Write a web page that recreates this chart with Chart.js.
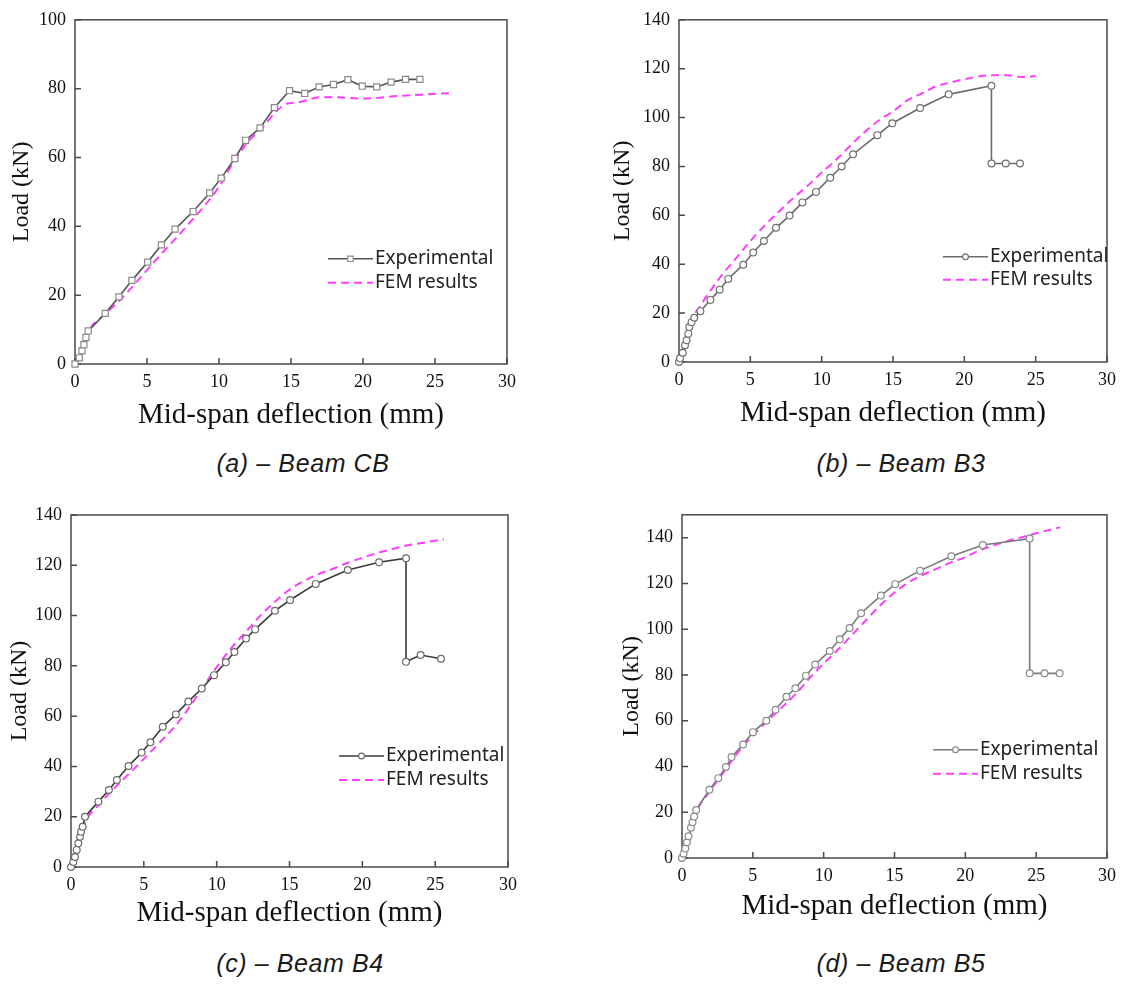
<!DOCTYPE html>
<html>
<head>
<meta charset="utf-8">
<script src="https://cdn.jsdelivr.net/npm/chart.js@4.4.1/dist/chart.umd.min.js"></script>
<style>
  body { margin: 0; background: #fff; width: 1123px; height: 985px; position: relative; overflow: hidden; }
  canvas { position: absolute; }
  .caption { position: absolute; width: 400px; text-align: center; font: italic 25px "Liberation Sans", Arial, sans-serif; letter-spacing: 0.6px; color: #1a1a1a; }
</style>
</head>
<body>
<canvas id="chartA" width="540" height="440" style="left:0;top:0"></canvas>
<canvas id="chartB" width="523" height="440" style="left:600px;top:0"></canvas>
<canvas id="chartC" width="540" height="450" style="left:0;top:495px"></canvas>
<canvas id="chartD" width="523" height="450" style="left:600px;top:495px"></canvas>
<div class="caption" style="left:103px;top:449px">(a) – Beam CB</div>
<div class="caption" style="left:701px;top:449px">(b) – Beam B3</div>
<div class="caption" style="left:100px;top:949px">(c) – Beam B4</div>
<div class="caption" style="left:701px;top:949px">(d) – Beam B5</div>
<script>
const xTickValues = [0, 5, 10, 15, 20, 25, 30];
const legendLabels = ["Experimental", "FEM results"];
const xTitle = "Mid-span deflection (mm)";
const yTitle = "Load (kN)";

const cbExpDefl = [0, 0.3, 0.48, 0.62, 0.76, 0.92, 2.1, 3.05, 3.95, 5.05, 6.0, 6.95, 8.2, 9.35, 10.15, 11.1, 11.85, 12.85, 13.85, 14.9, 15.95, 16.95, 17.95, 18.95, 19.95, 20.95, 21.95, 22.95, 23.95];
const cbExpLoad = [0, 1.8, 3.8, 5.6, 7.7, 9.6, 14.7, 19.5, 24.3, 29.6, 34.6, 39.2, 44.3, 49.7, 54.0, 59.7, 65.0, 68.6, 74.5, 79.4, 78.6, 80.5, 81.2, 82.6, 80.7, 80.5, 81.9, 82.7, 82.7];
const cbFemDefl = [0, 0.5, 1, 2, 3, 4, 5, 6, 7, 8, 9, 10, 11, 12, 13, 14, 14.7, 15.5, 17, 18, 20, 22.5, 26];
const cbFemLoad = [0, 5, 10, 14.2, 18, 22.5, 27.3, 32, 36.5, 41.2, 46, 51.5, 58.5, 64.5, 68.6, 73.5, 75.6, 76, 77.5, 77.5, 77.1, 77.9, 78.7];

const b3ExpDefl = [0, 0.07, 0.26, 0.42, 0.53, 0.65, 0.72, 0.88, 1.07, 1.5, 2.2, 2.85, 3.45, 4.5, 5.2, 5.95, 6.8, 7.75, 8.65, 9.6, 10.6, 11.4, 12.2, 13.9, 14.95, 16.9, 18.9, 21.9, 21.9, 22.9, 23.9];
const b3ExpLoad = [0, 1.5, 3.8, 6.9, 8.9, 11.6, 14.3, 16.3, 18.1, 20.8, 25.4, 29.6, 34, 39.8, 44.8, 49.5, 54.9, 59.9, 65.3, 69.6, 75.4, 80, 85, 92.8, 97.7, 103.9, 109.5, 113, 81.2, 81.2, 81.2];
const b3FemDefl = [0, 0.5, 1, 1.5, 2, 3, 4, 5, 6, 7, 8, 9, 10, 11, 12, 13, 14, 15, 16, 17, 18, 19, 20, 21, 22, 23, 24, 25];
const b3FemLoad = [0, 10.5, 18.5, 23, 27.5, 35.5, 42.5, 49.5, 55.8, 61.5, 67, 72, 77.5, 82.6, 88.5, 94, 98.8, 102.5, 107, 109.8, 112.8, 114.3, 115.7, 116.8, 117.3, 117.3, 116.6, 117];

const b4ExpDefl = [0, 0.16, 0.27, 0.39, 0.5, 0.62, 0.69, 0.8, 0.96, 1.88, 2.6, 3.15, 3.95, 4.85, 5.45, 6.3, 7.2, 8.05, 8.98, 9.82, 10.63, 11.22, 12.02, 12.64, 14, 15.04, 16.8, 19, 21.15, 23, 23, 24, 25.4];
const b4ExpLoad = [0, 2, 4, 6.8, 9.4, 12, 14, 16, 20, 26, 30.6, 34.6, 40.2, 45.5, 49.6, 55.8, 60.7, 65.8, 71, 76.3, 81.4, 85.5, 90.9, 94.5, 101.9, 106.2, 112.6, 118.1, 121.2, 122.8, 81.6, 84.3, 82.8];
const b4FemDefl = [0, 0.5, 1, 2, 3, 4, 5, 6, 7, 8, 9, 10, 11, 12, 13, 14, 15, 16, 17, 18, 19, 20, 21, 22, 23, 24, 25, 25.6];
const b4FemLoad = [0, 9, 18, 25.3, 31.5, 37.2, 43, 49, 55, 62.5, 71, 79.5, 87, 93.5, 100, 105.5, 110.3, 113.8, 116.5, 118.6, 121, 123, 124.8, 126.4, 127.8, 128.8, 129.8, 130.3];

const b5ExpDefl = [0, 0.11, 0.23, 0.35, 0.46, 0.63, 0.74, 0.86, 1, 1.93, 2.56, 3.1, 3.5, 4.31, 5.01, 5.95, 6.6, 7.37, 8, 8.75, 9.4, 10.43, 11.13, 11.83, 12.64, 14.04, 15.05, 16.8, 19.01, 21.23, 24.54, 24.54, 25.59, 26.66];
const b5ExpLoad = [0, 1.9, 4.1, 6.9, 9.5, 13.2, 15.6, 18.1, 21, 29.8, 34.9, 39.8, 44.1, 49.6, 55, 60, 64.8, 70.5, 74.2, 79.7, 84.6, 90.5, 95.6, 100.5, 107, 114.7, 119.7, 125.6, 131.9, 136.8, 139.6, 80.7, 80.7, 80.7];
const b5FemDefl = [0, 0.5, 1, 2, 3, 4, 5, 6, 7, 8, 9, 10, 11, 12, 13, 14, 15, 16, 17, 18, 19, 20, 21, 22, 23, 24, 25, 26, 26.7];
const b5FemLoad = [0, 10, 20, 29.5, 38, 46.5, 53.5, 59.7, 65.5, 71.5, 78.5, 85, 91, 97.5, 104, 110.5, 116, 120.5, 123.8, 126.5, 129.2, 131.5, 134.5, 136.6, 138.6, 140.2, 141.9, 143.5, 144.5];

const FEM_COLOR = "#ff3cff";
const serif = '"Liberation Serif", "Times New Roman", serif';

function toPoints(xs, ys) {
  return xs.map((x, i) => ({ x: x, y: ys[i] }));
}

const framePlugin = {
  id: "frame",
  beforeDatasetsDraw(chart, args, opts) {
    const { ctx, chartArea: a, scales } = chart;
    ctx.save();
    ctx.strokeStyle = "#4a4a4a";
    ctx.lineWidth = 1.5;
    ctx.strokeRect(a.left, a.top, a.right - a.left, a.bottom - a.top);
    ctx.beginPath();
    scales.x.ticks.forEach((t) => {
      const px = scales.x.getPixelForValue(t.value);
      ctx.moveTo(px, a.bottom);
      ctx.lineTo(px, a.bottom - 6);
    });
    scales.y.ticks.forEach((t) => {
      const py = scales.y.getPixelForValue(t.value);
      ctx.moveTo(a.left, py);
      ctx.lineTo(a.left + 6, py);
    });
    ctx.stroke();
    ctx.restore();
  },
  afterDatasetsDraw(chart, args, opts) {
    const { ctx, chartArea: a } = chart;
    const exp = chart.data.datasets[0];
    const fem = chart.data.datasets[1];
    const x0 = a.left + opts.x;
    const y0 = a.top + opts.y;
    const len = 45;
    ctx.save();
    ctx.strokeStyle = exp.borderColor;
    ctx.lineWidth = exp.borderWidth;
    ctx.beginPath();
    ctx.moveTo(x0, y0);
    ctx.lineTo(x0 + len, y0);
    ctx.stroke();
    ctx.fillStyle = "#fff";
    ctx.strokeStyle = exp.pointBorderColor;
    ctx.lineWidth = exp.pointBorderWidth;
    Chart.helpers.drawPoint(ctx, { pointStyle: exp.pointStyle, radius: exp.pointRadius - 0.5, borderWidth: exp.pointBorderWidth }, x0 + len / 2, y0);
    ctx.strokeStyle = fem.borderColor;
    ctx.lineWidth = fem.borderWidth;
    ctx.setLineDash(fem.borderDash);
    ctx.beginPath();
    ctx.moveTo(x0, y0 + opts.gap);
    ctx.lineTo(x0 + len, y0 + opts.gap);
    ctx.stroke();
    ctx.setLineDash([]);
    ctx.fillStyle = "#222";
    ctx.font = '19px "Noto Sans", "Open Sans", sans-serif';
    ctx.textBaseline = "middle";
    ctx.fillText(legendLabels[0], x0 + len + 2, y0);
    ctx.fillText(legendLabels[1], x0 + len + 2, y0 + opts.gap);
    ctx.restore();
  },
};

function createChart(p) {
  const canvas = document.getElementById(p.id);
  new Chart(canvas, {
    type: "line",
    data: {
      datasets: [
        {
          label: legendLabels[0],
          data: toPoints(p.expDefl, p.expLoad),
          borderColor: p.lineColor,
          borderWidth: 1.6,
          pointStyle: p.marker,
          pointRadius: p.radius,
          pointBackgroundColor: "#fff",
          pointBorderColor: p.markColor,
          pointBorderWidth: 1.2,
          tension: 0,
          clip: false,
        },
        {
          label: legendLabels[1],
          data: toPoints(p.femDefl, p.femLoad),
          borderColor: FEM_COLOR,
          borderWidth: 2,
          borderDash: [8, 5],
          pointRadius: 0,
          cubicInterpolationMode: "monotone",
          clip: false,
        },
      ],
    },
    options: {
      responsive: false,
      animation: false,
      events: [],
      layout: { padding: { top: p.padTop, right: p.padRight, left: 0, bottom: 0 } },
      plugins: {
        legend: { display: false },
        tooltip: { enabled: false },
        frame: p.legend,
      },
      scales: {
        x: {
          type: "linear",
          min: 0,
          max: 30,
          afterBuildTicks: (scale) => {
            scale.ticks = xTickValues.map((v) => ({ value: v }));
          },
          afterFit: (scale) => {
            scale.height = p.xHeight;
          },
          grid: { display: false, drawTicks: false },
          border: { display: false },
          ticks: { color: "#111", padding: 7, font: { family: serif, size: 18 } },
          title: {
            display: true,
            text: xTitle,
            color: "#111",
            padding: { top: 0, bottom: p.xTitlePad },
            font: { family: serif, size: 29, lineHeight: 1 },
          },
        },
        y: {
          type: "linear",
          min: 0,
          max: p.yMax,
          afterBuildTicks: (scale) => {
            scale.ticks = p.yTicks.map((v) => ({ value: v }));
          },
          afterFit: (scale) => {
            scale.width = p.yWidth;
          },
          grid: { display: false, drawTicks: false },
          border: { display: false },
          ticks: { color: "#111", padding: 9, font: { family: serif, size: 18 } },
          title: {
            display: true,
            text: yTitle,
            color: "#111",
            padding: { top: p.yTitlePad, bottom: 0 },
            font: { family: serif, size: 24, lineHeight: 1 },
          },
        },
      },
    },
    plugins: [framePlugin],
  });
}

const panels = [
  {
    id: "chartA", expDefl: cbExpDefl, expLoad: cbExpLoad, femDefl: cbFemDefl, femLoad: cbFemLoad,
    yMax: 100, yTicks: [0, 20, 40, 60, 80, 100], marker: "rect", radius: 4.3,
    lineColor: "#555", markColor: "#8a8a8a",
    yWidth: 75, xHeight: 76, padTop: 16, padRight: 33, yTitlePad: 10, xTitlePad: 10.5,
    legend: { x: 253, y: 239, gap: 24 },
  },
  {
    id: "chartB", expDefl: b3ExpDefl, expLoad: b3ExpLoad, femDefl: b3FemDefl, femLoad: b3FemLoad,
    yMax: 140, yTicks: [0, 20, 40, 60, 80, 100, 120, 140], marker: "circle", radius: 3.4,
    lineColor: "#6a6a6a", markColor: "#707070",
    yWidth: 79, xHeight: 78, padTop: 16, padRight: 14, yTitlePad: 11, xTitlePad: 12.5,
    legend: { x: 264, y: 237, gap: 23 },
  },
  {
    id: "chartC", expDefl: b4ExpDefl, expLoad: b4ExpLoad, femDefl: b4FemDefl, femLoad: b4FemLoad,
    yMax: 140, yTicks: [0, 20, 40, 60, 80, 100, 120, 140], marker: "circle", radius: 3.4,
    lineColor: "#3a3a3a", markColor: "#6a6a6a",
    yWidth: 71, xHeight: 78, padTop: 20, padRight: 32, yTitlePad: 8, xTitlePad: 17.5,
    legend: { x: 268, y: 241, gap: 24 },
  },
  {
    id: "chartD", expDefl: b5ExpDefl, expLoad: b5ExpLoad, femDefl: b5FemDefl, femLoad: b5FemLoad,
    yMax: 150, yTicks: [0, 20, 40, 60, 80, 100, 120, 140], marker: "circle", radius: 3.4,
    lineColor: "#7a7a7a", markColor: "#8a8a8a",
    yWidth: 82, xHeight: 87, padTop: 18, padRight: 12, yTitlePad: 20, xTitlePad: 24.5,
    legend: { x: 251, y: 235, gap: 24 },
  },
];

panels.forEach(createChart);
</script>
</body>
</html>
